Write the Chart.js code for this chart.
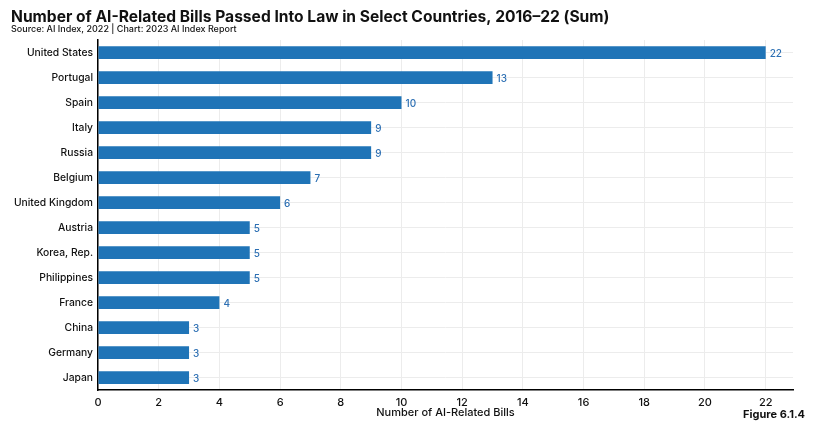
<!DOCTYPE html>
<html>
<head>
<meta charset="utf-8">
<script src="https://cdn.jsdelivr.net/npm/chart.js@4.4.0/dist/chart.umd.min.js"></script>
<style>
  html, body { margin: 0; padding: 0; background: #fff; }
  #wrap { width: 838px; height: 427px; position: relative; }
</style>
</head>
<body>
<div id="wrap"><canvas id="myChart" width="838" height="427"></canvas></div>
<script>
var countries = ['United States', 'Portugal', 'Spain', 'Italy', 'Russia', 'Belgium', 'United Kingdom',
    'Austria', 'Korea, Rep.', 'Philippines', 'France', 'China', 'Germany', 'Japan'];
var bills = [22, 13, 10, 9, 9, 7, 6, 5, 5, 5, 4, 3, 3, 3];
var xTicks = [0, 2, 4, 6, 8, 10, 12, 14, 16, 18, 20, 22];

var barColor = '#1f74b7';
var fontName = 'Inter, "Noto Sans", sans-serif';

// titles, bar value labels and figure number
var extras = {
    id: 'extras',
    afterDatasetsDraw: function (chart) {
        var ctx = chart.ctx;
        ctx.save();
        ctx.fillStyle = '#111';
        ctx.textBaseline = 'alphabetic';
        ctx.textAlign = 'left';
        ctx.font = 'bold 15.6px ' + fontName;
        ctx.fillText('Number of AI-Related Bills Passed Into Law in Select Countries, 2016–22 (Sum)', 11, 22);
        ctx.font = '500 9px ' + fontName;
        ctx.fillText('Source: AI Index, 2022 | Chart: 2023 AI Index Report', 11, 32);

        ctx.font = 'bold 11px ' + fontName;
        ctx.textAlign = 'right';
        ctx.fillText('Figure 6.1.4', 805, 418);

        var meta = chart.getDatasetMeta(0);
        ctx.fillStyle = '#2c6fb3';
        ctx.font = '500 10px ' + fontName;
        ctx.textAlign = 'left';
        ctx.textBaseline = 'middle';
        meta.data.forEach(function (bar, i) {
            ctx.fillText(bills[i], bar.x + 4, bar.y + 1);
        });
        ctx.restore();
    }
};

var canvas = document.getElementById('myChart');
var myNewChart = new Chart(canvas.getContext('2d'), {
    type: 'bar',
    data: {
        labels: countries,
        datasets: [{
            data: bills,
            backgroundColor: barColor,
            barPercentage: 1,
            categoryPercentage: 0.51
        }]
    },
    options: {
        indexAxis: 'y',
        responsive: false,
        animation: false,
        layout: { padding: { top: 40, left: 10, right: 45, bottom: 8 } },
        plugins: {
            legend: { display: false },
            tooltip: { enabled: false }
        },
        scales: {
            x: {
                min: 0,
                max: 22.9,
                afterBuildTicks: function (scale) {
                    scale.ticks = xTicks.map(function (v) { return { value: v }; });
                },
                afterFit: function (scale) { scale.height = 29; },
                grid: { color: '#ececec', drawTicks: false },
                border: { color: '#000', width: 1.5 },
                ticks: { color: '#111', padding: 6, font: { family: fontName, size: 11, weight: 500 } },
                title: {
                    display: true,
                    text: 'Number of AI-Related Bills',
                    color: '#111',
                    padding: { top: 0, bottom: 0 },
                    font: { family: fontName, size: 11, weight: 500 }
                }
            },
            y: {
                afterFit: function (scale) { scale.width = 88; },
                grid: { color: '#ececec', offset: false, drawTicks: false },
                border: { color: '#000', width: 1.5 },
                ticks: { color: '#111', padding: 5, font: { family: fontName, size: 10.3, weight: 500 } }
            }
        }
    },
    plugins: [extras]
});
</script>
</body>
</html>
